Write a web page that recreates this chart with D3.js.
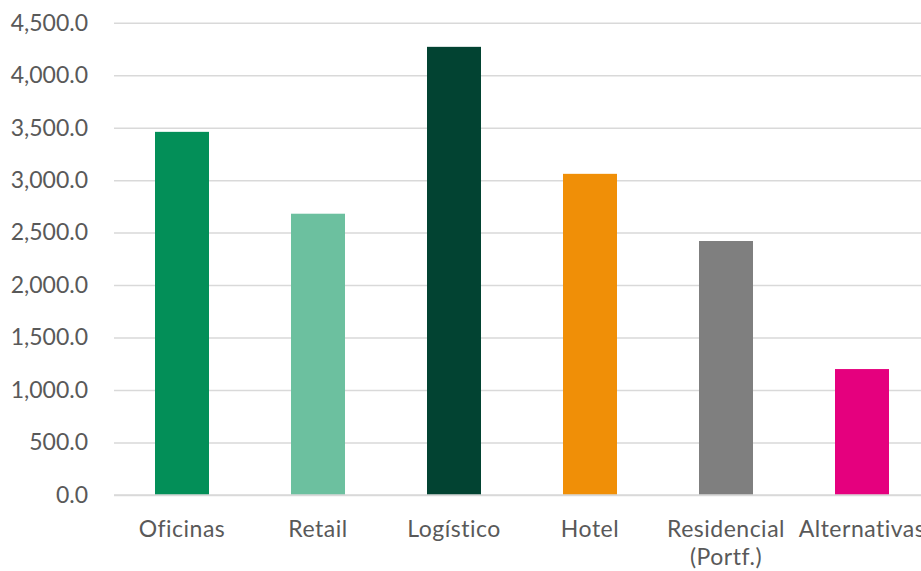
<!DOCTYPE html>
<html>
<head>
<meta charset="utf-8">
<script src="https://cdn.jsdelivr.net/npm/d3@7"></script>
<style>
  html, body { margin: 0; padding: 0; background: #fff; }
  svg { display: block; font-family: Lato, "Open Sans", sans-serif; font-variant-ligatures: none; }
</style>
</head>
<body>
<svg id="chart" width="921" height="571"></svg>
<script>
const categories = ["Oficinas", "Retail", "Logístico", "Hotel", "Residencial\n(Portf.)", "Alternativas"];
const values = [3460, 2680, 4270, 3060, 2420, 1200];
const colors = ["#038f58", "#6cc09f", "#024332", "#f08f07", "#7f7f7f", "#e5007e"];
const yTicks = [0, 500, 1000, 1500, 2000, 2500, 3000, 3500, 4000, 4500];

const svg = d3.select("#chart");
const plot = { left: 114, right: 930, top: 22.7, bottom: 495 };

const p = 82 / 136;
const x = d3.scaleBand().domain(categories).range([plot.left, plot.right])
  .paddingInner(p).paddingOuter(p / 2);
const y = d3.scaleLinear().domain([0, 4500]).range([plot.bottom, plot.top]);

// gridlines
const yAxis = d3.axisLeft(y).tickValues(yTicks)
  .tickSize(-(plot.right - plot.left))
  .tickPadding(26)
  .tickFormat(d3.format(",.1f"));
const gy = svg.append("g").attr("transform", `translate(${plot.left},0)`).call(yAxis);
gy.select(".domain").remove();
gy.selectAll(".tick line").attr("stroke", "#d9d9d9").attr("stroke-width", 1.5);
gy.selectAll(".tick text").attr("fill", "#595959").attr("font-size", 23)
  .attr("font-family", "Lato, 'Open Sans', sans-serif");

// bars
svg.append("g").selectAll("rect").data(categories).join("rect")
  .attr("x", d => x(d))
  .attr("width", x.bandwidth())
  .attr("y", (d, i) => y(values[i]))
  .attr("height", (d, i) => y(0) - y(values[i]))
  .attr("fill", (d, i) => colors[i]);

// zero axis line on top
svg.append("line")
  .attr("x1", plot.left).attr("x2", plot.right)
  .attr("y1", y(0)).attr("y2", y(0))
  .attr("stroke", "#d9d9d9").attr("stroke-width", 1.5);

// category labels
const lab = svg.append("g").selectAll("text").data(categories).join("text")
  .attr("x", d => x(d) + x.bandwidth() / 2)
  .attr("y", 537)
  .attr("text-anchor", "middle")
  .attr("fill", "#595959")
  .attr("font-size", 23)
  .attr("letter-spacing", 0.5);
lab.each(function(d) {
  const lines = d.split("\n");
  const t = d3.select(this);
  lines.forEach((ln, i) => {
    t.append("tspan").attr("x", x(d) + x.bandwidth() / 2).attr("dy", i === 0 ? 0 : 28).text(ln);
  });
});
</script>
</body>
</html>
